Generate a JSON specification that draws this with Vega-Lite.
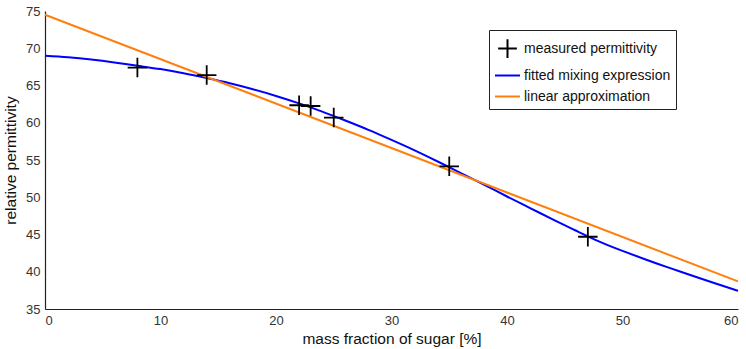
{
  "$schema": "https://vega.github.io/schema/vega-lite/v6.json",
  "width": 693,
  "height": 298,
  "autosize": "none",
  "padding": {"left": 45, "top": 11, "right": 8, "bottom": 40},
  "background": "white",
  "config": {
    "view": {"stroke": null, "fill": null},
    "font": "Liberation Sans",
    "axis": {
      "grid": false,
      "zindex": 1,
      "domainColor": "#222222",
      "domainWidth": 1.2,
      "ticks": false,
      "tickSize": 0,
      "labelFont": "Liberation Sans",
      "labelFontSize": 13,
      "labelColor": "#333333",
      "titleFont": "Liberation Sans",
      "titleFontSize": 15.5,
      "titleFontWeight": "normal",
      "titleColor": "#111111"
    }
  },
  "datasets": {
    "measured": [
      {"fraction": 8, "permittivity": 67.4, "series": "measured permittivity"},
      {"fraction": 14, "permittivity": 66.4, "series": "measured permittivity"},
      {"fraction": 22, "permittivity": 62.35, "series": "measured permittivity"},
      {"fraction": 23, "permittivity": 62.25, "series": "measured permittivity"},
      {"fraction": 25, "permittivity": 60.7, "series": "measured permittivity"},
      {"fraction": 35, "permittivity": 54.15, "series": "measured permittivity"},
      {"fraction": 47, "permittivity": 44.7, "series": "measured permittivity"}
    ],
    "fitted": [
      {"fraction": 0, "permittivity": 69.0, "series": "fitted mixing expression"},
      {"fraction": 2, "permittivity": 68.8, "series": "fitted mixing expression"},
      {"fraction": 4, "permittivity": 68.5, "series": "fitted mixing expression"},
      {"fraction": 6, "permittivity": 68.1, "series": "fitted mixing expression"},
      {"fraction": 8, "permittivity": 67.65, "series": "fitted mixing expression"},
      {"fraction": 10, "permittivity": 67.2, "series": "fitted mixing expression"},
      {"fraction": 12, "permittivity": 66.65, "series": "fitted mixing expression"},
      {"fraction": 14, "permittivity": 66.0, "series": "fitted mixing expression"},
      {"fraction": 16, "permittivity": 65.3, "series": "fitted mixing expression"},
      {"fraction": 18, "permittivity": 64.5, "series": "fitted mixing expression"},
      {"fraction": 20, "permittivity": 63.6, "series": "fitted mixing expression"},
      {"fraction": 22, "permittivity": 62.6, "series": "fitted mixing expression"},
      {"fraction": 24, "permittivity": 61.5, "series": "fitted mixing expression"},
      {"fraction": 26, "permittivity": 60.3, "series": "fitted mixing expression"},
      {"fraction": 28, "permittivity": 59.05, "series": "fitted mixing expression"},
      {"fraction": 30, "permittivity": 57.7, "series": "fitted mixing expression"},
      {"fraction": 32, "permittivity": 56.3, "series": "fitted mixing expression"},
      {"fraction": 34, "permittivity": 54.8, "series": "fitted mixing expression"},
      {"fraction": 36, "permittivity": 53.25, "series": "fitted mixing expression"},
      {"fraction": 38, "permittivity": 51.7, "series": "fitted mixing expression"},
      {"fraction": 40, "permittivity": 50.1, "series": "fitted mixing expression"},
      {"fraction": 42, "permittivity": 48.55, "series": "fitted mixing expression"},
      {"fraction": 44, "permittivity": 47.0, "series": "fitted mixing expression"},
      {"fraction": 46, "permittivity": 45.5, "series": "fitted mixing expression"},
      {"fraction": 48, "permittivity": 44.05, "series": "fitted mixing expression"},
      {"fraction": 50, "permittivity": 42.8, "series": "fitted mixing expression"},
      {"fraction": 52, "permittivity": 41.65, "series": "fitted mixing expression"},
      {"fraction": 54, "permittivity": 40.55, "series": "fitted mixing expression"},
      {"fraction": 56, "permittivity": 39.5, "series": "fitted mixing expression"},
      {"fraction": 58, "permittivity": 38.45, "series": "fitted mixing expression"},
      {"fraction": 60, "permittivity": 37.45, "series": "fitted mixing expression"}
    ],
    "linear": [
      {"fraction": 0, "permittivity": 74.5, "series": "linear approximation"},
      {"fraction": 60, "permittivity": 38.7, "series": "linear approximation"}
    ],
    "xTicks": [
      {"fraction": 10}, {"fraction": 20}, {"fraction": 30},
      {"fraction": 40}, {"fraction": 50}, {"fraction": 60}
    ],
    "yTicks": [
      {"permittivity": 40}, {"permittivity": 45}, {"permittivity": 50},
      {"permittivity": 55}, {"permittivity": 60}, {"permittivity": 65},
      {"permittivity": 70}, {"permittivity": 75}
    ]
  },
  "encoding": {
    "x": {
      "field": "fraction",
      "type": "quantitative",
      "scale": {"domain": [0, 60], "nice": false, "zero": false},
      "axis": {
        "values": [0, 10, 20, 30, 40, 50, 60],
        "title": "mass fraction of sugar [%]",
        "labelPadding": 5,
        "titlePadding": 4
      }
    },
    "y": {
      "field": "permittivity",
      "type": "quantitative",
      "scale": {"domain": [35, 75], "nice": false, "zero": false},
      "axis": {
        "values": [35, 40, 45, 50, 55, 60, 65, 70, 75],
        "title": "relative permittivity",
        "labelPadding": 5,
        "titlePadding": 7
      }
    }
  },
  "layer": [
    {
      "data": {"name": "fitted"},
      "mark": {"type": "line", "strokeWidth": 2, "interpolate": "natural"},
      "encoding": {
        "color": {
          "field": "series",
          "type": "nominal",
          "scale": {
            "domain": ["measured permittivity", "fitted mixing expression", "linear approximation"],
            "range": ["#000000", "#0000ff", "#ff7f0e"]
          },
          "legend": {
            "title": null,
            "orient": "none",
            "legendX": 444,
            "legendY": 19,
            "strokeColor": "#222222",
            "fillColor": "white",
            "padding": 5,
            "rowPadding": -1,
            "symbolSize": 625,
            "symbolStrokeWidth": 2,
            "labelFont": "Liberation Sans",
            "labelFontSize": 14,
            "labelColor": "#111111",
            "labelOffset": 3,
            "encode": {
              "symbols": {
                "update": {
                  "shape": {"signal": "datum.value === 'measured permittivity' ? 'M-0.75,0H0.75M0,-0.75V0.75' : 'stroke'"},
                  "stroke": {"signal": "scale('color', datum.value)"},
                  "fill": {"value": "transparent"},
                  "strokeWidth": {"value": 2}
                }
              }
            }
          }
        }
      }
    },
    {
      "data": {"name": "linear"},
      "mark": {"type": "line", "strokeWidth": 2},
      "encoding": {"color": {"field": "series", "type": "nominal"}}
    },
    {
      "data": {"name": "measured"},
      "mark": {
        "type": "point",
        "shape": "M-1,0H1M0,-1V1",
        "size": 380,
        "filled": false,
        "strokeWidth": 1.8,
        "opacity": 1
      },
      "encoding": {"color": {"field": "series", "type": "nominal"}}
    },
    {
      "data": {"name": "xTicks"},
      "mark": {"type": "tick", "orient": "vertical", "size": 14, "thickness": 1.2, "opacity": 1, "clip": true, "color": "#222222"},
      "encoding": {"y": {"datum": 35}}
    },
    {
      "data": {"name": "yTicks"},
      "mark": {"type": "tick", "orient": "horizontal", "size": 14, "thickness": 1.2, "opacity": 1, "clip": true, "color": "#222222"},
      "encoding": {"x": {"datum": 0}}
    }
  ]
}
